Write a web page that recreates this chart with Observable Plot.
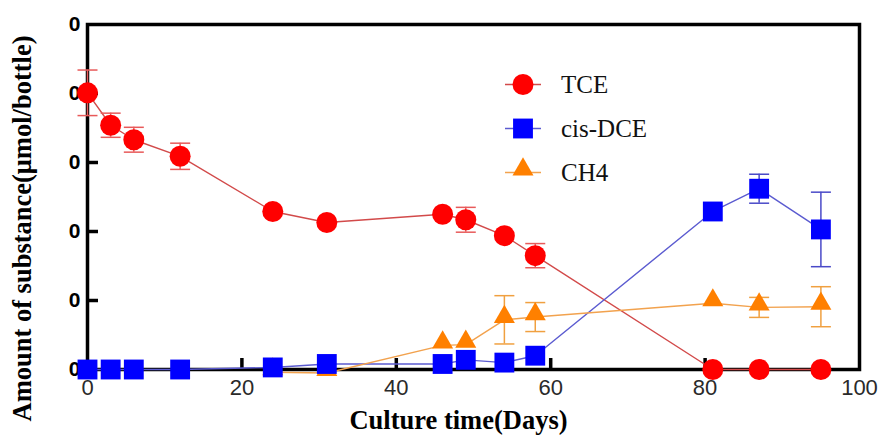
<!DOCTYPE html>
<html><head><meta charset="utf-8">
<script src="https://cdn.jsdelivr.net/npm/d3@7"></script>
<script src="https://cdn.jsdelivr.net/npm/@observablehq/plot@0.6"></script>
<style>body{margin:0;background:#fff} #chart svg{display:block}</style>
</head><body><div id="chart"></div>
<script>
const days   = [0, 3, 6, 12, 24, 31, 46, 49, 54, 58, 81, 87, 95];
const tce    = [40.1, 35.4, 33.3, 30.9, 22.9, 21.3, 22.5, 21.7, 19.4, 16.5, 0, 0, 0];
const tceErr = [3.3, 1.75, 1.8, 1.9, 0, 0, 0, 1.8, 0, 1.75, 0, 0, 0];
const dce    = [0, 0, 0, 0, 0.3, 0.8, 0.8, 1.4, 1.0, 2.0, 22.9, 26.2, 20.3];
const dceErr = [0, 0, 0, 0, 0, 0, 0, 0, 0, 0, 0, 2.1, 5.4];
const ch4    = [null, null, null, null, -0.4, -0.5, 3.5, 3.6, 7.2, 7.6, 9.6, 9.0, 9.1];
const ch4Err = [0, 0, 0, 0, 0, 0, 0, 0, 3.5, 2.1, 0, 1.45, 2.9];
const seriesNames = ["TCE", "cis-DCE", "CH4"];
const xTicks = [0, 20, 40, 60, 80, 100];
const yTicks = [0, 10, 20, 30, 40, 50];
const yTickLabels = ["0", "0", "0", "0", "0", "0"];
const xTitle = "Culture time(Days)";
const yTitle = "Amount of substance(μmol/bottle)";

const styles = {
  "TCE":     {values: tce, errs: tceErr, fill: "#ff0000", line: "#d24a4a", err: "#e85a5a", symbol: "circle", r: 10.5, dy: 0},
  "cis-DCE": {values: dce, errs: dceErr, fill: "#0000ff", line: "#5b5bd0", err: "#4a4ac8", symbol: "square", r: 11.2, dy: 0},
  "CH4":     {values: ch4, errs: ch4Err, fill: "#ff8000", line: "#f2a24e", err: "#f0a040", symbol: "triangle", r: 7.8, dy: -3}
};
const rows = {};
seriesNames.forEach(n => {
  rows[n] = days.map((d, i) => ({x: d, y: styles[n].values[i], e: styles[n].errs[i]}));
});

const cap = {draw(ctx) { ctx.moveTo(-10, 0); ctx.lineTo(10, 0); }};
const legLine = {draw(ctx) { ctx.moveTo(-18, 0); ctx.lineTo(18, 0); }};
const serif = "'Liberation Serif', 'Times New Roman', serif";
const sans = "'Liberation Sans', Arial, sans-serif";

const marks = [
  Plot.frame({stroke: "black", strokeWidth: 3.5}),
  Plot.axisX({ticks: [20, 40, 60, 80], tickSize: -11, strokeWidth: 3.5, tickFormat: () => "", label: null}),
  Plot.axisY({ticks: [10, 20, 30, 40], tickSize: -11, strokeWidth: 3.5, tickFormat: () => "", label: null}),
  Plot.axisX({ticks: xTicks, tickSize: 0, tickPadding: 10, fontSize: 22, fontFamily: sans, fill: "#2a2a2a", label: null}),
  Plot.axisY({ticks: yTicks, tickSize: 0, tickPadding: 7, fontSize: 21, fontWeight: "bold", fontFamily: sans, fill: "black",
              tickFormat: d => yTickLabels[yTicks.indexOf(d)], label: null})
];

// lines
seriesNames.forEach(n => {
  marks.push(Plot.line(rows[n].filter(d => d.y != null), {x: "x", y: "y", stroke: styles[n].line, strokeWidth: 1.4}));
});
// error bars
seriesNames.forEach(n => {
  const eb = rows[n].filter(d => d.e > 0 && d.y != null);
  const st = styles[n];
  marks.push(Plot.ruleX(eb, {x: "x", y1: d => d.y - d.e, y2: d => d.y + d.e, stroke: st.err, strokeWidth: 1.5}));
  marks.push(Plot.dot(eb, {x: "x", y: d => d.y + d.e, symbol: cap, r: 5, stroke: st.err, strokeWidth: 1.5, fill: "none"}));
  marks.push(Plot.dot(eb, {x: "x", y: d => d.y - d.e, symbol: cap, r: 5, stroke: st.err, strokeWidth: 1.5, fill: "none"}));
});
// markers (orange, red, blue order)
["CH4", "TCE", "cis-DCE"].forEach(n => {
  const st = styles[n];
  marks.push(Plot.dot(rows[n].filter(d => d.y != null), {x: "x", y: "y", symbol: st.symbol, r: st.r, fill: st.fill, stroke: "none", dy: st.dy}));
});
// legend
seriesNames.forEach((n, i) => {
  const st = styles[n];
  const dy = 60 + i * 44;
  marks.push(Plot.dot([n], {frameAnchor: "top-left", dx: 435.5, dy, symbol: legLine, r: 5, stroke: st.line, strokeWidth: 1.4, fill: "none"}));
  marks.push(Plot.dot([n], {frameAnchor: "top-left", dx: 435.5, dy: dy + st.dy, symbol: st.symbol, r: st.r, fill: st.fill, stroke: "none"}));
  marks.push(Plot.text([n], {frameAnchor: "top-left", dx: 473.5, dy, text: d => d, textAnchor: "start", lineAnchor: "middle", fontSize: 25, fontFamily: serif, fill: "#111"}));
});
// titles
marks.push(Plot.text([xTitle], {frameAnchor: "bottom", dx: -15, dy: 51, text: d => d, textAnchor: "middle", lineAnchor: "middle", fontSize: 26.5, fontWeight: "bold", fontFamily: serif, fill: "black"}));
marks.push(Plot.text([yTitle], {frameAnchor: "left", dx: -65, dy: 31.5, rotate: -90, text: d => d, textAnchor: "middle", lineAnchor: "middle", fontSize: 26.5, fontWeight: "bold", fontFamily: serif, fill: "black"}));

const chart = Plot.plot({
  width: 879, height: 436,
  marginLeft: 87, marginRight: 20, marginTop: 24, marginBottom: 67,
  x: {domain: [0, 100]},
  y: {domain: [0, 50]},
  style: {background: "white", overflow: "visible"},
  marks
});
document.getElementById("chart").appendChild(chart);
</script>
</body></html>
